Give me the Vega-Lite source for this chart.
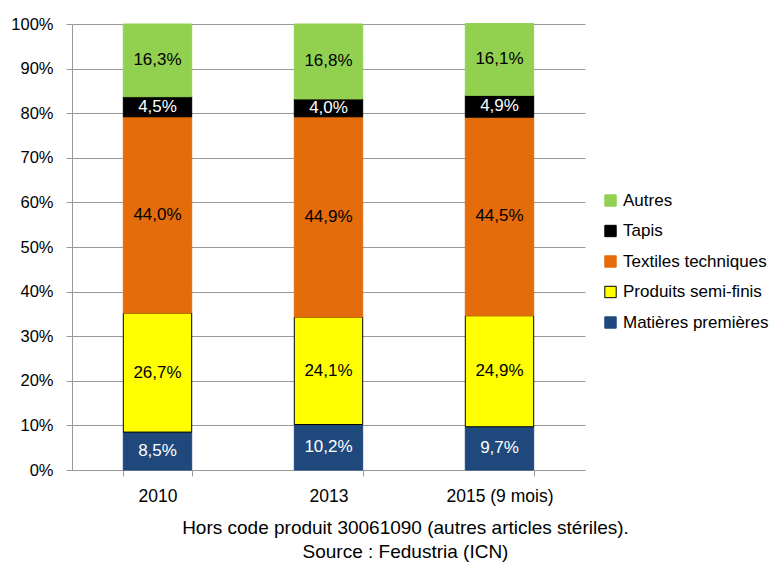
{
  "$schema": "https://vega.github.io/schema/vega-lite/v6.json",
  "autosize": "none",
  "width": 513,
  "height": 446,
  "padding": {"left": 72, "top": 24, "right": 186, "bottom": 99},
  "background": "white",
  "config": {
    "font": "Liberation Sans",
    "view": {"stroke": null},
    "locale": {"number": {"decimal": ",", "thousands": " ", "grouping": [3], "currency": ["", " €"]}}
  },
  "data": {
    "values": [
      {"year": "2010", "series": "Matières premières", "order": 1, "value": 0.085},
      {"year": "2010", "series": "Produits semi-finis", "order": 2, "value": 0.267},
      {"year": "2010", "series": "Textiles techniques", "order": 3, "value": 0.440},
      {"year": "2010", "series": "Tapis", "order": 4, "value": 0.045},
      {"year": "2010", "series": "Autres", "order": 5, "value": 0.163},
      {"year": "2013", "series": "Matières premières", "order": 1, "value": 0.102},
      {"year": "2013", "series": "Produits semi-finis", "order": 2, "value": 0.241},
      {"year": "2013", "series": "Textiles techniques", "order": 3, "value": 0.449},
      {"year": "2013", "series": "Tapis", "order": 4, "value": 0.040},
      {"year": "2013", "series": "Autres", "order": 5, "value": 0.168},
      {"year": "2015 (9 mois)", "series": "Matières premières", "order": 1, "value": 0.097},
      {"year": "2015 (9 mois)", "series": "Produits semi-finis", "order": 2, "value": 0.249},
      {"year": "2015 (9 mois)", "series": "Textiles techniques", "order": 3, "value": 0.445},
      {"year": "2015 (9 mois)", "series": "Tapis", "order": 4, "value": 0.049},
      {"year": "2015 (9 mois)", "series": "Autres", "order": 5, "value": 0.161}
    ]
  },
  "transform": [
    {"stack": "value", "groupby": ["year"], "sort": [{"field": "order", "order": "ascending"}], "as": ["y0", "y1"]},
    {"calculate": "(datum.y0 + datum.y1) / 2", "as": "mid"}
  ],
  "encoding": {
    "x": {
      "field": "year", "type": "nominal", "sort": null,
      "scale": {"paddingInner": 0.6, "paddingOuter": 0.3},
      "axis": {
        "title": ["Hors code produit 30061090 (autres articles stériles).", "Source : Fedustria (ICN)"],
        "titleFont": "Liberation Sans", "titleFontSize": 19, "titleFontWeight": "normal", "titleColor": "#000",
        "titleX": 333, "titleY": 63, "titleLineHeight": 24, "titleBaseline": "alphabetic",
        "labelAngle": 0, "labelFontSize": 17.5, "labelColor": "#000", "labelPadding": 11,
        "tickBand": "extent", "tickColor": "#999", "tickSize": 6, "domainColor": "#999", "grid": false
      }
    }
  },
  "layer": [
    {
      "mark": {"type": "bar", "strokeWidth": 1},
      "encoding": {
        "y": {
          "field": "y0", "type": "quantitative",
          "scale": {"domain": [0, 1], "nice": false},
          "axis": {
            "title": null, "format": ".0%", "values": [0, 0.1, 0.2, 0.3, 0.4, 0.5, 0.6, 0.7, 0.8, 0.9, 1],
            "labelFontSize": 16.5, "labelColor": "#000", "labelPadding": 13,
            "tickColor": "#999", "tickSize": 6, "domainColor": "#999",
            "gridColor": "#999", "gridWidth": 1
          }
        },
        "y2": {"field": "y1"},
        "color": {
          "field": "series", "type": "nominal",
          "scale": {
            "domain": ["Autres", "Tapis", "Textiles techniques", "Produits semi-finis", "Matières premières"],
            "range": ["#92D050", "#000000", "#E46C0A", "#FFFF00", "#1F497D"]
          },
          "legend": {
            "title": null, "orient": "none", "legendX": 530, "legendY": 168,
            "symbolType": "square", "symbolSize": 130, "symbolStrokeWidth": 1,
            "labelFontSize": 17, "labelColor": "#000", "labelOffset": 4, "rowPadding": 12.5,
            "labelFont": "Liberation Sans"
          }
        },
        "stroke": {
          "field": "series", "type": "nominal",
          "scale": {
            "domain": ["Autres", "Tapis", "Textiles techniques", "Produits semi-finis", "Matières premières"],
            "range": ["#92D050", "#000000", "#E46C0A", "#000000", "#1F497D"]
          },
          "legend": {
            "title": null, "orient": "none", "legendX": 530, "legendY": 168,
            "symbolType": "square", "symbolSize": 130, "symbolStrokeWidth": 1,
            "labelFontSize": 17, "labelColor": "#000", "labelOffset": 4, "rowPadding": 12.5,
            "labelFont": "Liberation Sans"
          }
        }
      }
    },
    {
      "mark": {"type": "text", "fontSize": 17, "baseline": "middle", "align": "center"},
      "encoding": {
        "y": {"field": "mid", "type": "quantitative"},
        "text": {"field": "value", "type": "quantitative", "format": ".1%"},
        "color": {
          "condition": {"test": "datum.series === 'Tapis' || datum.series === 'Matières premières'", "value": "#ffffff"},
          "value": "#000000"
        }
      }
    }
  ]
}
